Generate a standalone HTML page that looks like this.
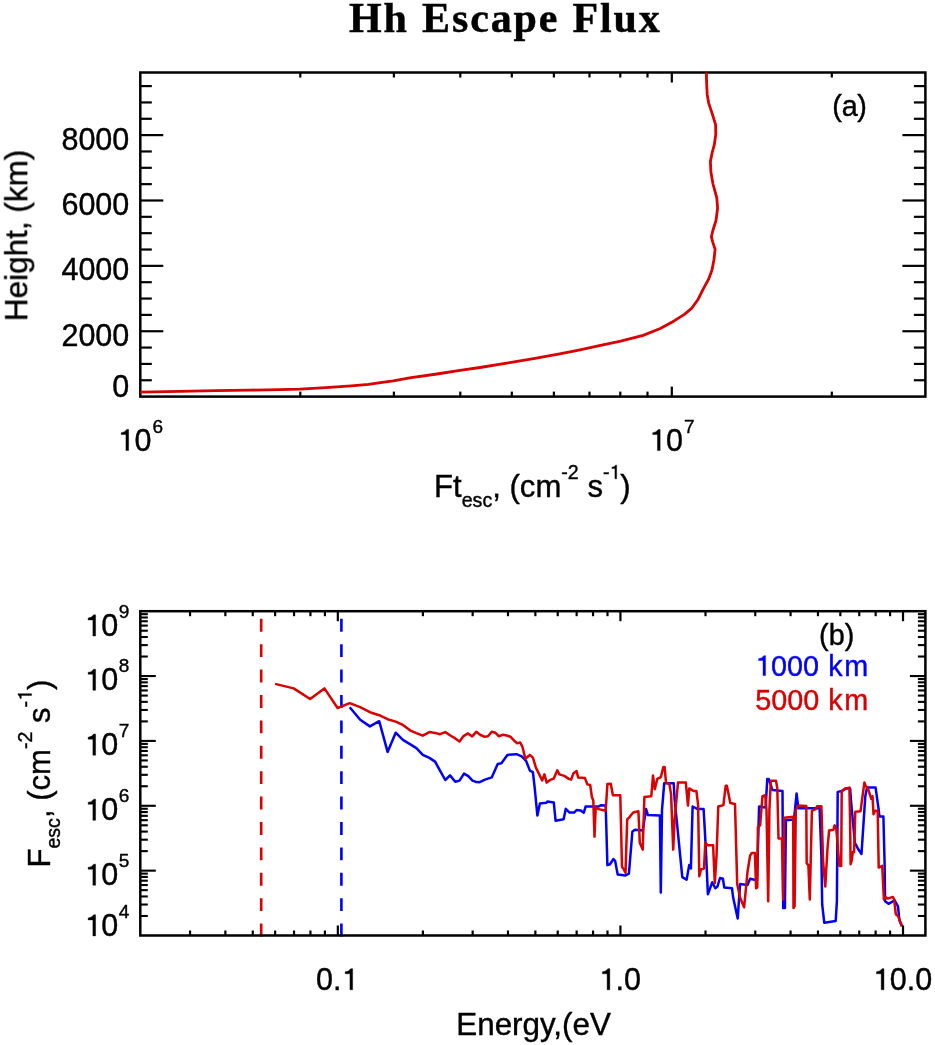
<!DOCTYPE html>
<html><head><meta charset="utf-8"><title>Hh Escape Flux</title>
<style>
html,body{margin:0;padding:0;background:#fff;}
body{width:935px;height:1045px;overflow:hidden;font-family:"Liberation Sans", sans-serif;}
svg{display:block;font-family:"Liberation Sans", sans-serif;opacity:0.999;will-change:transform;}
</style></head><body>
<svg width="935" height="1045" viewBox="0 0 935 1045">
<defs><filter id="soft" x="0" y="0" width="100%" height="100%" filterUnits="userSpaceOnUse"><feGaussianBlur stdDeviation="0.3"/></filter></defs>
<rect width="935" height="1045" fill="#fff"/>
<g filter="url(#soft)">
<rect width="935" height="1045" fill="#fff"/>
<rect x="140.3" y="72.5" width="785.10" height="324.10" fill="none" stroke="#000" stroke-width="2.5"/>
<line x1="140.30" y1="380.26" x2="151.80" y2="380.26" stroke="#000" stroke-width="2.2" />
<line x1="925.40" y1="380.26" x2="913.90" y2="380.26" stroke="#000" stroke-width="2.2" />
<line x1="140.30" y1="363.92" x2="151.80" y2="363.92" stroke="#000" stroke-width="2.2" />
<line x1="925.40" y1="363.92" x2="913.90" y2="363.92" stroke="#000" stroke-width="2.2" />
<line x1="140.30" y1="347.57" x2="151.80" y2="347.57" stroke="#000" stroke-width="2.2" />
<line x1="925.40" y1="347.57" x2="913.90" y2="347.57" stroke="#000" stroke-width="2.2" />
<line x1="140.30" y1="331.23" x2="163.30" y2="331.23" stroke="#000" stroke-width="2.2" />
<line x1="925.40" y1="331.23" x2="902.40" y2="331.23" stroke="#000" stroke-width="2.2" />
<line x1="140.30" y1="314.89" x2="151.80" y2="314.89" stroke="#000" stroke-width="2.2" />
<line x1="925.40" y1="314.89" x2="913.90" y2="314.89" stroke="#000" stroke-width="2.2" />
<line x1="140.30" y1="298.55" x2="151.80" y2="298.55" stroke="#000" stroke-width="2.2" />
<line x1="925.40" y1="298.55" x2="913.90" y2="298.55" stroke="#000" stroke-width="2.2" />
<line x1="140.30" y1="282.20" x2="151.80" y2="282.20" stroke="#000" stroke-width="2.2" />
<line x1="925.40" y1="282.20" x2="913.90" y2="282.20" stroke="#000" stroke-width="2.2" />
<line x1="140.30" y1="265.86" x2="163.30" y2="265.86" stroke="#000" stroke-width="2.2" />
<line x1="925.40" y1="265.86" x2="902.40" y2="265.86" stroke="#000" stroke-width="2.2" />
<line x1="140.30" y1="249.52" x2="151.80" y2="249.52" stroke="#000" stroke-width="2.2" />
<line x1="925.40" y1="249.52" x2="913.90" y2="249.52" stroke="#000" stroke-width="2.2" />
<line x1="140.30" y1="233.18" x2="151.80" y2="233.18" stroke="#000" stroke-width="2.2" />
<line x1="925.40" y1="233.18" x2="913.90" y2="233.18" stroke="#000" stroke-width="2.2" />
<line x1="140.30" y1="216.83" x2="151.80" y2="216.83" stroke="#000" stroke-width="2.2" />
<line x1="925.40" y1="216.83" x2="913.90" y2="216.83" stroke="#000" stroke-width="2.2" />
<line x1="140.30" y1="200.49" x2="163.30" y2="200.49" stroke="#000" stroke-width="2.2" />
<line x1="925.40" y1="200.49" x2="902.40" y2="200.49" stroke="#000" stroke-width="2.2" />
<line x1="140.30" y1="184.15" x2="151.80" y2="184.15" stroke="#000" stroke-width="2.2" />
<line x1="925.40" y1="184.15" x2="913.90" y2="184.15" stroke="#000" stroke-width="2.2" />
<line x1="140.30" y1="167.81" x2="151.80" y2="167.81" stroke="#000" stroke-width="2.2" />
<line x1="925.40" y1="167.81" x2="913.90" y2="167.81" stroke="#000" stroke-width="2.2" />
<line x1="140.30" y1="151.46" x2="151.80" y2="151.46" stroke="#000" stroke-width="2.2" />
<line x1="925.40" y1="151.46" x2="913.90" y2="151.46" stroke="#000" stroke-width="2.2" />
<line x1="140.30" y1="135.12" x2="163.30" y2="135.12" stroke="#000" stroke-width="2.2" />
<line x1="925.40" y1="135.12" x2="902.40" y2="135.12" stroke="#000" stroke-width="2.2" />
<line x1="140.30" y1="118.78" x2="151.80" y2="118.78" stroke="#000" stroke-width="2.2" />
<line x1="925.40" y1="118.78" x2="913.90" y2="118.78" stroke="#000" stroke-width="2.2" />
<line x1="140.30" y1="102.44" x2="151.80" y2="102.44" stroke="#000" stroke-width="2.2" />
<line x1="925.40" y1="102.44" x2="913.90" y2="102.44" stroke="#000" stroke-width="2.2" />
<line x1="140.30" y1="86.09" x2="151.80" y2="86.09" stroke="#000" stroke-width="2.2" />
<line x1="925.40" y1="86.09" x2="913.90" y2="86.09" stroke="#000" stroke-width="2.2" />
<line x1="300.30" y1="396.60" x2="300.30" y2="391.60" stroke="#000" stroke-width="2.2" />
<line x1="300.30" y1="72.50" x2="300.30" y2="77.50" stroke="#000" stroke-width="2.2" />
<line x1="393.89" y1="396.60" x2="393.89" y2="391.60" stroke="#000" stroke-width="2.2" />
<line x1="393.89" y1="72.50" x2="393.89" y2="77.50" stroke="#000" stroke-width="2.2" />
<line x1="460.30" y1="396.60" x2="460.30" y2="391.60" stroke="#000" stroke-width="2.2" />
<line x1="460.30" y1="72.50" x2="460.30" y2="77.50" stroke="#000" stroke-width="2.2" />
<line x1="511.81" y1="396.60" x2="511.81" y2="391.60" stroke="#000" stroke-width="2.2" />
<line x1="511.81" y1="72.50" x2="511.81" y2="77.50" stroke="#000" stroke-width="2.2" />
<line x1="553.89" y1="396.60" x2="553.89" y2="391.60" stroke="#000" stroke-width="2.2" />
<line x1="553.89" y1="72.50" x2="553.89" y2="77.50" stroke="#000" stroke-width="2.2" />
<line x1="589.48" y1="396.60" x2="589.48" y2="391.60" stroke="#000" stroke-width="2.2" />
<line x1="589.48" y1="72.50" x2="589.48" y2="77.50" stroke="#000" stroke-width="2.2" />
<line x1="620.30" y1="396.60" x2="620.30" y2="391.60" stroke="#000" stroke-width="2.2" />
<line x1="620.30" y1="72.50" x2="620.30" y2="77.50" stroke="#000" stroke-width="2.2" />
<line x1="647.49" y1="396.60" x2="647.49" y2="391.60" stroke="#000" stroke-width="2.2" />
<line x1="647.49" y1="72.50" x2="647.49" y2="77.50" stroke="#000" stroke-width="2.2" />
<line x1="671.81" y1="396.60" x2="671.81" y2="386.60" stroke="#000" stroke-width="2.2" />
<line x1="671.81" y1="72.50" x2="671.81" y2="82.50" stroke="#000" stroke-width="2.2" />
<line x1="831.81" y1="396.60" x2="831.81" y2="391.60" stroke="#000" stroke-width="2.2" />
<line x1="831.81" y1="72.50" x2="831.81" y2="77.50" stroke="#000" stroke-width="2.2" />
<text x="129.30" y="149.60" font-size="30.5" text-anchor="end" fill="#000" stroke="#000" stroke-width="0.4" >8000</text>
<text x="129.30" y="215.10" font-size="30.5" text-anchor="end" fill="#000" stroke="#000" stroke-width="0.4" >6000</text>
<text x="129.30" y="280.30" font-size="30.5" text-anchor="end" fill="#000" stroke="#000" stroke-width="0.4" >4000</text>
<text x="129.30" y="345.70" font-size="30.5" text-anchor="end" fill="#000" stroke="#000" stroke-width="0.4" >2000</text>
<text x="129.30" y="397.00" font-size="30.5" text-anchor="end" fill="#000" stroke="#000" stroke-width="0.4" >0</text>
<path transform="translate(117.45,450.60) scale(0.01489,-0.01489)" d="M570 0V1075H252V1205Q510 1225 625 1420H751V0Z" fill="#000" stroke="#000" stroke-width="26.9"/>
<text x="134.41" y="450.60" font-size="30.5" fill="#000" stroke="#000" stroke-width="0.4">0</text>
<text x="152.48" y="432.60" font-size="19.0" text-anchor="start" fill="#000" stroke="#000" stroke-width="0.4" >6</text>
<path transform="translate(648.96,450.60) scale(0.01489,-0.01489)" d="M570 0V1075H252V1205Q510 1225 625 1420H751V0Z" fill="#000" stroke="#000" stroke-width="26.9"/>
<text x="665.92" y="450.60" font-size="30.5" fill="#000" stroke="#000" stroke-width="0.4">0</text>
<text x="683.99" y="432.60" font-size="19.0" text-anchor="start" fill="#000" stroke="#000" stroke-width="0.4" >7</text>
<text x="849.50" y="115.60" font-size="28.8" text-anchor="middle" fill="#000" stroke="#000" stroke-width="0.4" letter-spacing="-0.3">(a)</text>
<text transform="translate(27.2,235.4) rotate(-90)" font-size="31.5" text-anchor="middle" stroke="#000" stroke-width="0.4">Height, (km)</text>
<text x="434.07" y="497.00" font-size="31.1" text-anchor="start" fill="#000" stroke="#000" stroke-width="0.4" >Ft</text>
<text x="461.72" y="506.80" font-size="19.6" text-anchor="start" fill="#000" stroke="#000" stroke-width="0.4" >esc</text>
<text x="492.22" y="497.00" font-size="31.1" text-anchor="start" fill="#000" stroke="#000" stroke-width="0.4" >,</text>
<text x="509.51" y="497.00" font-size="31.1" text-anchor="start" fill="#000" stroke="#000" stroke-width="0.4" >(cm</text>
<text x="561.32" y="478.80" font-size="19.6" text-anchor="start" fill="#000" stroke="#000" stroke-width="0.4" >-2</text>
<text x="587.39" y="497.00" font-size="31.1" text-anchor="start" fill="#000" stroke="#000" stroke-width="0.4" >s</text>
<text x="602.94" y="478.80" font-size="19.6" fill="#000" stroke="#000" stroke-width="0.4">-</text>
<path transform="translate(609.47,478.80) scale(0.00957,-0.00957)" d="M570 0V1075H252V1205Q510 1225 625 1420H751V0Z" fill="#000" stroke="#000" stroke-width="41.8"/>
<text x="620.37" y="497.00" font-size="31.1" text-anchor="start" fill="#000" stroke="#000" stroke-width="0.4" >)</text>
<polyline points="140.3,392.1 180.0,391.4 215.6,390.6 250.0,390.1 279.7,389.7 300.0,389.2 325.7,387.6 351.3,385.8 368.4,384.3 380.4,382.7 393.3,380.9 411.2,377.7 436.9,374.0 460.0,370.4 480.0,367.5 508.3,362.9 535.0,358.4 559.7,353.9 580.0,349.8 598.2,345.9 620.7,341.2 643.1,335.4 660.3,328.5 674.1,320.9 684.4,314.4 691.3,308.7 698.2,299.2 703.3,288.9 708.5,279.4 712.0,270.0 714.0,259.6 715.1,249.3 712.8,242.4 711.4,236.8 713.0,230.0 716.0,220.5 717.6,208.1 716.8,197.8 713.0,184.0 710.9,172.0 710.4,161.6 712.1,153.0 714.4,144.4 715.8,134.1 715.6,124.6 712.1,113.4 708.7,103.1 707.2,94.4 706.6,82.4 706.4,72.5" fill="none" stroke="#d90000" stroke-width="2.8" stroke-linejoin="round" stroke-linecap="butt" />
<line x1="261.20" y1="936.50" x2="261.20" y2="618.60" stroke="#d90000" stroke-width="2.6" stroke-dasharray="12.9 12.5"/>
<line x1="341.40" y1="936.50" x2="341.40" y2="618.60" stroke="#0000fa" stroke-width="2.6" stroke-dasharray="12.9 12.5"/>
<polyline points="349.7,707.2 360.2,719.7 369.9,726.4 379.2,721.2 387.6,751.9 395.7,732.7 402.9,739.9 410.4,744.4 416.4,748.1 422.8,754.9 429.4,757.9 435.1,761.6 440.0,770.6 445.3,780.0 450.0,775.4 455.3,781.8 459.5,780.6 464.0,773.6 468.3,776.1 472.5,780.6 476.5,782.1 479.7,782.2 485.0,779.6 491.7,777.4 497.7,763.9 501.4,763.2 507.4,754.9 516.4,754.2 521.7,756.4 526.1,760.9 529.9,770.6 532.9,772.1 534.7,787.9 537.4,815.6 539.9,803.6 546.4,802.8 547.4,801.6 553.8,802.5 555.6,820.8 563.6,819.3 565.8,808.8 569.6,812.6 574.1,812.6 576.6,810.0 580.8,810.6 583.8,812.6 585.6,806.6 598.8,806.4 600.8,805.3 605.7,805.6 607.4,865.1 610.0,864.2 613.4,859.0 615.1,860.8 617.7,874.5 625.5,875.4 628.9,873.7 632.4,831.5 635.0,829.8 642.7,830.6 646.1,809.1 647.9,815.1 659.9,815.5 660.8,892.6 662.0,810.0 664.2,783.3 673.7,783.3 674.6,798.8 682.3,877.1 686.6,879.7 689.2,865.1 690.9,868.5 692.6,806.5 697.6,809.1 703.6,809.1 705.7,846.1 707.9,894.3 712.2,882.3 715.3,888.3 717.4,886.6 720.0,878.0 722.9,878.8 724.3,887.5 732.0,888.3 733.2,897.8 737.7,918.5 740.1,884.0 747.5,884.9 750.1,878.8 754.4,879.7 757.0,880.6 759.1,806.5 765.6,807.4 767.3,778.9 768.7,778.9 772.5,790.1 782.5,791.0 783.2,908.1 784.9,908.1 785.9,820.3 794.0,819.4 796.6,793.6 798.3,808.2 819.6,808.2 821.4,856.5 822.2,904.7 824.3,922.8 835.7,921.0 836.9,901.2 837.7,791.9 842.0,791.0 846.3,788.4 850.1,788.4 851.2,803.1 854.9,842.7 858.4,849.6 861.5,853.9 865.3,796.2 867.0,787.6 875.6,787.6 878.7,809.9 879.4,816.5 883.4,816.5 884.6,863.3 885.1,901.2 888.5,903.8 894.6,900.4 898.0,906.4 899.4,920.2 902.0,926.2" fill="none" stroke="#0000fa" stroke-width="2.5" stroke-linejoin="round" stroke-linecap="butt" />
<polyline points="275.1,683.9 293.7,688.4 310.1,699.0 324.4,688.4 337.6,708.0 349.7,703.2 360.2,707.2 369.9,712.2 379.2,715.2 387.6,719.2 395.7,721.6 402.9,724.9 410.4,730.6 416.4,733.2 422.8,735.7 429.4,732.1 435.1,732.9 440.0,734.2 445.3,732.1 450.8,735.7 455.3,738.4 459.5,741.4 463.5,736.1 468.0,733.4 472.2,736.4 476.3,731.8 480.5,735.0 484.2,736.7 488.0,736.2 491.7,731.7 495.5,732.8 498.7,736.2 502.9,734.7 506.7,735.5 510.4,736.7 514.2,740.7 517.2,743.2 520.2,742.6 522.4,746.7 525.4,758.7 529.9,754.9 532.9,757.6 535.9,767.6 538.9,773.6 542.2,780.4 544.4,774.4 546.7,782.6 550.8,779.6 553.8,778.6 557.3,770.3 559.4,774.4 564.3,775.9 568.8,778.9 571.1,779.6 573.3,773.6 576.6,771.1 578.1,777.4 585.0,778.1 587.3,784.4 590.2,785.0 591.9,797.0 593.3,800.5 594.5,836.6 595.7,807.4 598.8,809.1 605.7,810.8 607.4,784.1 610.8,783.8 612.9,795.3 620.3,795.3 622.0,866.8 623.8,869.4 625.5,872.8 627.2,819.4 629.8,816.8 633.2,812.5 638.4,811.3 639.8,842.7 642.7,849.6 644.4,797.0 651.3,796.2 653.0,775.5 654.8,789.3 657.3,778.9 660.8,777.2 663.4,766.9 664.6,766.9 666.0,782.4 669.4,784.1 671.1,794.4 673.2,849.6 674.6,820.3 678.0,782.4 685.8,782.4 688.0,805.6 689.2,788.4 693.5,791.0 696.4,791.0 698.1,804.8 699.3,876.3 701.0,869.4 704.0,868.5 705.3,842.7 707.9,845.3 713.1,845.3 714.8,883.1 716.5,856.5 718.3,806.5 723.4,805.1 725.7,785.8 726.9,785.8 730.3,803.1 735.0,803.9 737.2,884.0 740.1,897.8 744.1,907.3 747.5,872.0 750.1,855.6 751.8,853.0 754.9,853.0 756.1,888.3 757.3,887.5 757.9,827.2 760.1,825.4 762.5,796.2 765.3,795.3 766.5,810.0 768.2,901.2 769.4,810.0 770.8,780.7 776.0,780.7 777.3,788.4 778.5,838.4 782.0,838.4 783.2,899.5 784.2,817.7 793.2,816.8 793.5,908.1 794.6,906.4 795.8,810.0 798.3,805.6 806.3,806.0 806.7,863.3 808.4,865.1 809.8,899.5 811.9,810.8 815.7,809.1 817.1,806.2 821.4,806.2 823.1,861.6 825.3,886.6 827.4,849.6 829.1,830.6 833.4,829.8 834.6,825.4 836.3,828.9 839.4,865.9 841.2,865.9 841.7,791.0 845.5,788.4 849.4,787.6 850.1,820.3 850.6,864.2 851.5,861.6 852.9,852.1 854.1,852.1 855.3,811.7 860.5,811.3 864.4,782.4 865.6,785.8 867.9,788.4 871.3,798.8 872.5,796.2 873.5,814.3 875.3,810.8 877.7,810.8 878.7,867.6 882.2,865.9 883.9,899.5 885.1,896.9 887.7,898.6 892.8,896.9 894.2,899.5 895.8,914.2 898.0,915.9 902.0,926.2" fill="none" stroke="#d90000" stroke-width="2.5" stroke-linejoin="round" stroke-linecap="butt" />
<rect x="140.3" y="611.2" width="785.10" height="324.30" fill="none" stroke="#000" stroke-width="2.5"/>
<line x1="140.30" y1="915.98" x2="147.80" y2="915.98" stroke="#000" stroke-width="2.1" />
<line x1="925.40" y1="915.98" x2="917.90" y2="915.98" stroke="#000" stroke-width="2.1" />
<line x1="140.30" y1="904.55" x2="147.80" y2="904.55" stroke="#000" stroke-width="2.1" />
<line x1="925.40" y1="904.55" x2="917.90" y2="904.55" stroke="#000" stroke-width="2.1" />
<line x1="140.30" y1="896.45" x2="147.80" y2="896.45" stroke="#000" stroke-width="2.1" />
<line x1="925.40" y1="896.45" x2="917.90" y2="896.45" stroke="#000" stroke-width="2.1" />
<line x1="140.30" y1="890.16" x2="147.80" y2="890.16" stroke="#000" stroke-width="2.1" />
<line x1="925.40" y1="890.16" x2="917.90" y2="890.16" stroke="#000" stroke-width="2.1" />
<line x1="140.30" y1="885.03" x2="147.80" y2="885.03" stroke="#000" stroke-width="2.1" />
<line x1="925.40" y1="885.03" x2="917.90" y2="885.03" stroke="#000" stroke-width="2.1" />
<line x1="140.30" y1="880.69" x2="147.80" y2="880.69" stroke="#000" stroke-width="2.1" />
<line x1="925.40" y1="880.69" x2="917.90" y2="880.69" stroke="#000" stroke-width="2.1" />
<line x1="140.30" y1="876.93" x2="147.80" y2="876.93" stroke="#000" stroke-width="2.1" />
<line x1="925.40" y1="876.93" x2="917.90" y2="876.93" stroke="#000" stroke-width="2.1" />
<line x1="140.30" y1="873.61" x2="147.80" y2="873.61" stroke="#000" stroke-width="2.1" />
<line x1="925.40" y1="873.61" x2="917.90" y2="873.61" stroke="#000" stroke-width="2.1" />
<line x1="140.30" y1="870.64" x2="155.80" y2="870.64" stroke="#000" stroke-width="2.1" />
<line x1="925.40" y1="870.64" x2="909.90" y2="870.64" stroke="#000" stroke-width="2.1" />
<line x1="140.30" y1="851.12" x2="147.80" y2="851.12" stroke="#000" stroke-width="2.1" />
<line x1="925.40" y1="851.12" x2="917.90" y2="851.12" stroke="#000" stroke-width="2.1" />
<line x1="140.30" y1="839.69" x2="147.80" y2="839.69" stroke="#000" stroke-width="2.1" />
<line x1="925.40" y1="839.69" x2="917.90" y2="839.69" stroke="#000" stroke-width="2.1" />
<line x1="140.30" y1="831.59" x2="147.80" y2="831.59" stroke="#000" stroke-width="2.1" />
<line x1="925.40" y1="831.59" x2="917.90" y2="831.59" stroke="#000" stroke-width="2.1" />
<line x1="140.30" y1="825.30" x2="147.80" y2="825.30" stroke="#000" stroke-width="2.1" />
<line x1="925.40" y1="825.30" x2="917.90" y2="825.30" stroke="#000" stroke-width="2.1" />
<line x1="140.30" y1="820.17" x2="147.80" y2="820.17" stroke="#000" stroke-width="2.1" />
<line x1="925.40" y1="820.17" x2="917.90" y2="820.17" stroke="#000" stroke-width="2.1" />
<line x1="140.30" y1="815.83" x2="147.80" y2="815.83" stroke="#000" stroke-width="2.1" />
<line x1="925.40" y1="815.83" x2="917.90" y2="815.83" stroke="#000" stroke-width="2.1" />
<line x1="140.30" y1="812.07" x2="147.80" y2="812.07" stroke="#000" stroke-width="2.1" />
<line x1="925.40" y1="812.07" x2="917.90" y2="812.07" stroke="#000" stroke-width="2.1" />
<line x1="140.30" y1="808.75" x2="147.80" y2="808.75" stroke="#000" stroke-width="2.1" />
<line x1="925.40" y1="808.75" x2="917.90" y2="808.75" stroke="#000" stroke-width="2.1" />
<line x1="140.30" y1="805.78" x2="155.80" y2="805.78" stroke="#000" stroke-width="2.1" />
<line x1="925.40" y1="805.78" x2="909.90" y2="805.78" stroke="#000" stroke-width="2.1" />
<line x1="140.30" y1="786.26" x2="147.80" y2="786.26" stroke="#000" stroke-width="2.1" />
<line x1="925.40" y1="786.26" x2="917.90" y2="786.26" stroke="#000" stroke-width="2.1" />
<line x1="140.30" y1="774.83" x2="147.80" y2="774.83" stroke="#000" stroke-width="2.1" />
<line x1="925.40" y1="774.83" x2="917.90" y2="774.83" stroke="#000" stroke-width="2.1" />
<line x1="140.30" y1="766.73" x2="147.80" y2="766.73" stroke="#000" stroke-width="2.1" />
<line x1="925.40" y1="766.73" x2="917.90" y2="766.73" stroke="#000" stroke-width="2.1" />
<line x1="140.30" y1="760.44" x2="147.80" y2="760.44" stroke="#000" stroke-width="2.1" />
<line x1="925.40" y1="760.44" x2="917.90" y2="760.44" stroke="#000" stroke-width="2.1" />
<line x1="140.30" y1="755.31" x2="147.80" y2="755.31" stroke="#000" stroke-width="2.1" />
<line x1="925.40" y1="755.31" x2="917.90" y2="755.31" stroke="#000" stroke-width="2.1" />
<line x1="140.30" y1="750.97" x2="147.80" y2="750.97" stroke="#000" stroke-width="2.1" />
<line x1="925.40" y1="750.97" x2="917.90" y2="750.97" stroke="#000" stroke-width="2.1" />
<line x1="140.30" y1="747.21" x2="147.80" y2="747.21" stroke="#000" stroke-width="2.1" />
<line x1="925.40" y1="747.21" x2="917.90" y2="747.21" stroke="#000" stroke-width="2.1" />
<line x1="140.30" y1="743.89" x2="147.80" y2="743.89" stroke="#000" stroke-width="2.1" />
<line x1="925.40" y1="743.89" x2="917.90" y2="743.89" stroke="#000" stroke-width="2.1" />
<line x1="140.30" y1="740.92" x2="155.80" y2="740.92" stroke="#000" stroke-width="2.1" />
<line x1="925.40" y1="740.92" x2="909.90" y2="740.92" stroke="#000" stroke-width="2.1" />
<line x1="140.30" y1="721.40" x2="147.80" y2="721.40" stroke="#000" stroke-width="2.1" />
<line x1="925.40" y1="721.40" x2="917.90" y2="721.40" stroke="#000" stroke-width="2.1" />
<line x1="140.30" y1="709.97" x2="147.80" y2="709.97" stroke="#000" stroke-width="2.1" />
<line x1="925.40" y1="709.97" x2="917.90" y2="709.97" stroke="#000" stroke-width="2.1" />
<line x1="140.30" y1="701.87" x2="147.80" y2="701.87" stroke="#000" stroke-width="2.1" />
<line x1="925.40" y1="701.87" x2="917.90" y2="701.87" stroke="#000" stroke-width="2.1" />
<line x1="140.30" y1="695.58" x2="147.80" y2="695.58" stroke="#000" stroke-width="2.1" />
<line x1="925.40" y1="695.58" x2="917.90" y2="695.58" stroke="#000" stroke-width="2.1" />
<line x1="140.30" y1="690.45" x2="147.80" y2="690.45" stroke="#000" stroke-width="2.1" />
<line x1="925.40" y1="690.45" x2="917.90" y2="690.45" stroke="#000" stroke-width="2.1" />
<line x1="140.30" y1="686.11" x2="147.80" y2="686.11" stroke="#000" stroke-width="2.1" />
<line x1="925.40" y1="686.11" x2="917.90" y2="686.11" stroke="#000" stroke-width="2.1" />
<line x1="140.30" y1="682.35" x2="147.80" y2="682.35" stroke="#000" stroke-width="2.1" />
<line x1="925.40" y1="682.35" x2="917.90" y2="682.35" stroke="#000" stroke-width="2.1" />
<line x1="140.30" y1="679.03" x2="147.80" y2="679.03" stroke="#000" stroke-width="2.1" />
<line x1="925.40" y1="679.03" x2="917.90" y2="679.03" stroke="#000" stroke-width="2.1" />
<line x1="140.30" y1="676.06" x2="155.80" y2="676.06" stroke="#000" stroke-width="2.1" />
<line x1="925.40" y1="676.06" x2="909.90" y2="676.06" stroke="#000" stroke-width="2.1" />
<line x1="140.30" y1="656.54" x2="147.80" y2="656.54" stroke="#000" stroke-width="2.1" />
<line x1="925.40" y1="656.54" x2="917.90" y2="656.54" stroke="#000" stroke-width="2.1" />
<line x1="140.30" y1="645.11" x2="147.80" y2="645.11" stroke="#000" stroke-width="2.1" />
<line x1="925.40" y1="645.11" x2="917.90" y2="645.11" stroke="#000" stroke-width="2.1" />
<line x1="140.30" y1="637.01" x2="147.80" y2="637.01" stroke="#000" stroke-width="2.1" />
<line x1="925.40" y1="637.01" x2="917.90" y2="637.01" stroke="#000" stroke-width="2.1" />
<line x1="140.30" y1="630.72" x2="147.80" y2="630.72" stroke="#000" stroke-width="2.1" />
<line x1="925.40" y1="630.72" x2="917.90" y2="630.72" stroke="#000" stroke-width="2.1" />
<line x1="140.30" y1="625.59" x2="147.80" y2="625.59" stroke="#000" stroke-width="2.1" />
<line x1="925.40" y1="625.59" x2="917.90" y2="625.59" stroke="#000" stroke-width="2.1" />
<line x1="140.30" y1="621.25" x2="147.80" y2="621.25" stroke="#000" stroke-width="2.1" />
<line x1="925.40" y1="621.25" x2="917.90" y2="621.25" stroke="#000" stroke-width="2.1" />
<line x1="140.30" y1="617.49" x2="147.80" y2="617.49" stroke="#000" stroke-width="2.1" />
<line x1="925.40" y1="617.49" x2="917.90" y2="617.49" stroke="#000" stroke-width="2.1" />
<line x1="140.30" y1="614.17" x2="147.80" y2="614.17" stroke="#000" stroke-width="2.1" />
<line x1="925.40" y1="614.17" x2="917.90" y2="614.17" stroke="#000" stroke-width="2.1" />
<line x1="190.06" y1="935.50" x2="190.06" y2="930.50" stroke="#000" stroke-width="2.2" />
<line x1="190.06" y1="611.20" x2="190.06" y2="616.20" stroke="#000" stroke-width="2.2" />
<line x1="225.37" y1="935.50" x2="225.37" y2="930.50" stroke="#000" stroke-width="2.2" />
<line x1="225.37" y1="611.20" x2="225.37" y2="616.20" stroke="#000" stroke-width="2.2" />
<line x1="252.76" y1="935.50" x2="252.76" y2="930.50" stroke="#000" stroke-width="2.2" />
<line x1="252.76" y1="611.20" x2="252.76" y2="616.20" stroke="#000" stroke-width="2.2" />
<line x1="275.13" y1="935.50" x2="275.13" y2="930.50" stroke="#000" stroke-width="2.2" />
<line x1="275.13" y1="611.20" x2="275.13" y2="616.20" stroke="#000" stroke-width="2.2" />
<line x1="294.05" y1="935.50" x2="294.05" y2="930.50" stroke="#000" stroke-width="2.2" />
<line x1="294.05" y1="611.20" x2="294.05" y2="616.20" stroke="#000" stroke-width="2.2" />
<line x1="310.44" y1="935.50" x2="310.44" y2="930.50" stroke="#000" stroke-width="2.2" />
<line x1="310.44" y1="611.20" x2="310.44" y2="616.20" stroke="#000" stroke-width="2.2" />
<line x1="324.90" y1="935.50" x2="324.90" y2="930.50" stroke="#000" stroke-width="2.2" />
<line x1="324.90" y1="611.20" x2="324.90" y2="616.20" stroke="#000" stroke-width="2.2" />
<line x1="337.83" y1="935.50" x2="337.83" y2="925.50" stroke="#000" stroke-width="2.2" />
<line x1="337.83" y1="611.20" x2="337.83" y2="621.20" stroke="#000" stroke-width="2.2" />
<line x1="422.90" y1="935.50" x2="422.90" y2="930.50" stroke="#000" stroke-width="2.2" />
<line x1="422.90" y1="611.20" x2="422.90" y2="616.20" stroke="#000" stroke-width="2.2" />
<line x1="472.66" y1="935.50" x2="472.66" y2="930.50" stroke="#000" stroke-width="2.2" />
<line x1="472.66" y1="611.20" x2="472.66" y2="616.20" stroke="#000" stroke-width="2.2" />
<line x1="507.97" y1="935.50" x2="507.97" y2="930.50" stroke="#000" stroke-width="2.2" />
<line x1="507.97" y1="611.20" x2="507.97" y2="616.20" stroke="#000" stroke-width="2.2" />
<line x1="535.36" y1="935.50" x2="535.36" y2="930.50" stroke="#000" stroke-width="2.2" />
<line x1="535.36" y1="611.20" x2="535.36" y2="616.20" stroke="#000" stroke-width="2.2" />
<line x1="557.73" y1="935.50" x2="557.73" y2="930.50" stroke="#000" stroke-width="2.2" />
<line x1="557.73" y1="611.20" x2="557.73" y2="616.20" stroke="#000" stroke-width="2.2" />
<line x1="576.65" y1="935.50" x2="576.65" y2="930.50" stroke="#000" stroke-width="2.2" />
<line x1="576.65" y1="611.20" x2="576.65" y2="616.20" stroke="#000" stroke-width="2.2" />
<line x1="593.04" y1="935.50" x2="593.04" y2="930.50" stroke="#000" stroke-width="2.2" />
<line x1="593.04" y1="611.20" x2="593.04" y2="616.20" stroke="#000" stroke-width="2.2" />
<line x1="607.49" y1="935.50" x2="607.49" y2="930.50" stroke="#000" stroke-width="2.2" />
<line x1="607.49" y1="611.20" x2="607.49" y2="616.20" stroke="#000" stroke-width="2.2" />
<line x1="620.43" y1="935.50" x2="620.43" y2="925.50" stroke="#000" stroke-width="2.2" />
<line x1="620.43" y1="611.20" x2="620.43" y2="621.20" stroke="#000" stroke-width="2.2" />
<line x1="705.50" y1="935.50" x2="705.50" y2="930.50" stroke="#000" stroke-width="2.2" />
<line x1="705.50" y1="611.20" x2="705.50" y2="616.20" stroke="#000" stroke-width="2.2" />
<line x1="755.26" y1="935.50" x2="755.26" y2="930.50" stroke="#000" stroke-width="2.2" />
<line x1="755.26" y1="611.20" x2="755.26" y2="616.20" stroke="#000" stroke-width="2.2" />
<line x1="790.57" y1="935.50" x2="790.57" y2="930.50" stroke="#000" stroke-width="2.2" />
<line x1="790.57" y1="611.20" x2="790.57" y2="616.20" stroke="#000" stroke-width="2.2" />
<line x1="817.95" y1="935.50" x2="817.95" y2="930.50" stroke="#000" stroke-width="2.2" />
<line x1="817.95" y1="611.20" x2="817.95" y2="616.20" stroke="#000" stroke-width="2.2" />
<line x1="840.33" y1="935.50" x2="840.33" y2="930.50" stroke="#000" stroke-width="2.2" />
<line x1="840.33" y1="611.20" x2="840.33" y2="616.20" stroke="#000" stroke-width="2.2" />
<line x1="859.25" y1="935.50" x2="859.25" y2="930.50" stroke="#000" stroke-width="2.2" />
<line x1="859.25" y1="611.20" x2="859.25" y2="616.20" stroke="#000" stroke-width="2.2" />
<line x1="875.64" y1="935.50" x2="875.64" y2="930.50" stroke="#000" stroke-width="2.2" />
<line x1="875.64" y1="611.20" x2="875.64" y2="616.20" stroke="#000" stroke-width="2.2" />
<line x1="890.09" y1="935.50" x2="890.09" y2="930.50" stroke="#000" stroke-width="2.2" />
<line x1="890.09" y1="611.20" x2="890.09" y2="616.20" stroke="#000" stroke-width="2.2" />
<line x1="903.02" y1="935.50" x2="903.02" y2="925.50" stroke="#000" stroke-width="2.2" />
<line x1="903.02" y1="611.20" x2="903.02" y2="621.20" stroke="#000" stroke-width="2.2" />
<text x="118.63" y="618.00" font-size="19.0" text-anchor="start" fill="#000" stroke="#000" stroke-width="0.4" >9</text>
<path transform="translate(84.40,636.00) scale(0.01489,-0.01489)" d="M570 0V1075H252V1205Q510 1225 625 1420H751V0Z" fill="#000" stroke="#000" stroke-width="26.9"/>
<text x="101.37" y="636.00" font-size="30.5" fill="#000" stroke="#000" stroke-width="0.4">0</text>
<text x="118.63" y="672.30" font-size="19.0" text-anchor="start" fill="#000" stroke="#000" stroke-width="0.4" >8</text>
<path transform="translate(84.40,690.30) scale(0.01489,-0.01489)" d="M570 0V1075H252V1205Q510 1225 625 1420H751V0Z" fill="#000" stroke="#000" stroke-width="26.9"/>
<text x="101.37" y="690.30" font-size="30.5" fill="#000" stroke="#000" stroke-width="0.4">0</text>
<text x="118.63" y="737.20" font-size="19.0" text-anchor="start" fill="#000" stroke="#000" stroke-width="0.4" >7</text>
<path transform="translate(84.40,755.20) scale(0.01489,-0.01489)" d="M570 0V1075H252V1205Q510 1225 625 1420H751V0Z" fill="#000" stroke="#000" stroke-width="26.9"/>
<text x="101.37" y="755.20" font-size="30.5" fill="#000" stroke="#000" stroke-width="0.4">0</text>
<text x="118.63" y="802.30" font-size="19.0" text-anchor="start" fill="#000" stroke="#000" stroke-width="0.4" >6</text>
<path transform="translate(84.40,820.30) scale(0.01489,-0.01489)" d="M570 0V1075H252V1205Q510 1225 625 1420H751V0Z" fill="#000" stroke="#000" stroke-width="26.9"/>
<text x="101.37" y="820.30" font-size="30.5" fill="#000" stroke="#000" stroke-width="0.4">0</text>
<text x="118.63" y="867.30" font-size="19.0" text-anchor="start" fill="#000" stroke="#000" stroke-width="0.4" >5</text>
<path transform="translate(84.40,885.30) scale(0.01489,-0.01489)" d="M570 0V1075H252V1205Q510 1225 625 1420H751V0Z" fill="#000" stroke="#000" stroke-width="26.9"/>
<text x="101.37" y="885.30" font-size="30.5" fill="#000" stroke="#000" stroke-width="0.4">0</text>
<text x="118.63" y="917.90" font-size="19.0" text-anchor="start" fill="#000" stroke="#000" stroke-width="0.4" >4</text>
<path transform="translate(84.40,935.90) scale(0.01489,-0.01489)" d="M570 0V1075H252V1205Q510 1225 625 1420H751V0Z" fill="#000" stroke="#000" stroke-width="26.9"/>
<text x="101.37" y="935.90" font-size="30.5" fill="#000" stroke="#000" stroke-width="0.4">0</text>
<text x="316.03" y="989.80" font-size="30.5" fill="#000" stroke="#000" stroke-width="0.4">0.</text>
<path transform="translate(341.46,989.80) scale(0.01489,-0.01489)" d="M570 0V1075H252V1205Q510 1225 625 1420H751V0Z" fill="#000" stroke="#000" stroke-width="26.9"/>
<path transform="translate(598.63,989.80) scale(0.01489,-0.01489)" d="M570 0V1075H252V1205Q510 1225 625 1420H751V0Z" fill="#000" stroke="#000" stroke-width="26.9"/>
<text x="615.59" y="989.80" font-size="30.5" fill="#000" stroke="#000" stroke-width="0.4">.0</text>
<path transform="translate(872.74,989.80) scale(0.01489,-0.01489)" d="M570 0V1075H252V1205Q510 1225 625 1420H751V0Z" fill="#000" stroke="#000" stroke-width="26.9"/>
<text x="889.71" y="989.80" font-size="30.5" fill="#000" stroke="#000" stroke-width="0.4">0.0</text>
<text x="836.70" y="645.00" font-size="28.8" text-anchor="middle" fill="#000" stroke="#000" stroke-width="0.4" >(b)</text>
<path transform="translate(755.00,675.60) scale(0.01406,-0.01406)" d="M570 0V1075H252V1205Q510 1225 625 1420H751V0Z" fill="#0000fa" stroke="#0000fa" stroke-width="28.4"/>
<text x="771.02" y="675.60" font-size="28.8" fill="#0000fa" stroke="#0000fa" stroke-width="0.4">000</text>
<text x="869.90" y="675.60" font-size="28.8" text-anchor="end" fill="#0000fa" stroke="#0000fa" stroke-width="0.4" letter-spacing="1.6">km</text>
<text x="755.30" y="709.90" font-size="28.8" text-anchor="start" fill="#d90000" stroke="#d90000" stroke-width="0.4" >5000</text>
<text x="869.90" y="709.90" font-size="28.8" text-anchor="end" fill="#d90000" stroke="#d90000" stroke-width="0.4" letter-spacing="1.6">km</text>
<text x="533.60" y="1035.00" font-size="31.4" text-anchor="middle" fill="#000" stroke="#000" stroke-width="0.4" >Energy,(eV</text>
<g transform="translate(49.8,773.6) rotate(-90)">
<text x="-94.00" y="0.00" font-size="31.1" text-anchor="start" fill="#000" stroke="#000" stroke-width="0.4" >F</text>
<text x="-75.00" y="9.80" font-size="19.6" text-anchor="start" fill="#000" stroke="#000" stroke-width="0.4" >esc</text>
<text x="-44.50" y="0.00" font-size="31.1" text-anchor="start" fill="#000" stroke="#000" stroke-width="0.4" >,</text>
<text x="-27.21" y="0.00" font-size="31.1" text-anchor="start" fill="#000" stroke="#000" stroke-width="0.4" >(cm</text>
<text x="24.60" y="-18.20" font-size="19.6" text-anchor="start" fill="#000" stroke="#000" stroke-width="0.4" >-2</text>
<text x="50.67" y="0.00" font-size="31.1" text-anchor="start" fill="#000" stroke="#000" stroke-width="0.4" >s</text>
<text x="66.22" y="-18.20" font-size="19.6" fill="#000" stroke="#000" stroke-width="0.4">-</text>
<path transform="translate(72.75,-18.20) scale(0.00957,-0.00957)" d="M570 0V1075H252V1205Q510 1225 625 1420H751V0Z" fill="#000" stroke="#000" stroke-width="41.8"/>
<text x="83.65" y="0.00" font-size="31.1" text-anchor="start" fill="#000" stroke="#000" stroke-width="0.4" >)</text>
</g>
<text x="349.0" y="31.8" font-family='"Liberation Serif", serif' font-weight="bold" font-size="42" letter-spacing="1.85" word-spacing="1" stroke="#000" stroke-width="0.45">Hh Escape Flux</text>
</g>
</svg>
</body></html>
